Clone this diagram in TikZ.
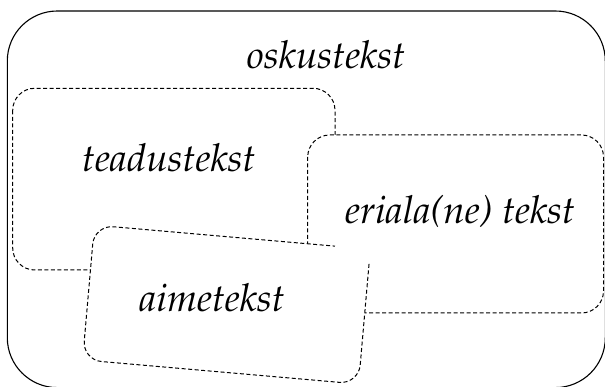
\documentclass[tikz,border=0pt]{standalone}
\usepackage[T1]{fontenc}
\usepackage{mathpazo}
\tikzset{
  outerbox/.style={draw=black, line width=1.1pt, rounded corners=50pt},
  setbox/.style={draw=black, fill=white, line width=1pt, dash pattern=on 4pt off 2.5pt, rounded corners=22pt},
  aimebox/.style={draw=black, line width=1pt, dash pattern=on 4pt off 2.5pt, rounded corners=19pt},
  lbl/.style={anchor=base, inner sep=0pt, font=\fontsize{38.5}{40}\selectfont\itshape}
}
\begin{document}
\begin{tikzpicture}[x=1pt, y=-1pt]
\useasboundingbox (0,0) rectangle (605,387);
\clip (0,0) rectangle (605,387);
\fill[white] (0,0) rectangle (605,387);
% outer set
\draw[outerbox] (7.3,11) rectangle (605.3,387.6);
% teadustekst set
\draw[setbox] (12.7,88.3) rectangle (335,270);
% eriala(ne) tekst set (on top)
\draw[setbox] (307.7,135) rectangle (603.5,313);
% aimetekst set, slightly rotated, on top
\begin{scope}[shift={(226.46,304.56)}, rotate=-5]
  \fill[white, rounded corners=19pt] (-138.5,-67.65) rectangle (138.5,67.65);
  \draw[aimebox] (138.5,-53) -- (138.5,67.65) -- (-138.5,67.65) -- (-138.5,-67.65) -- (103,-67.65);
\end{scope}
% labels
\node[lbl] (osk) at (326,69) {oskustekst};
\node[lbl] (tea) at (168.8,171.7) {teadustekst};
\node[lbl] (eri) at (460,224) {eriala(ne) tekst};
\node[lbl] (aim) at (212,312) {aimetekst};
\end{tikzpicture}
\end{document}
